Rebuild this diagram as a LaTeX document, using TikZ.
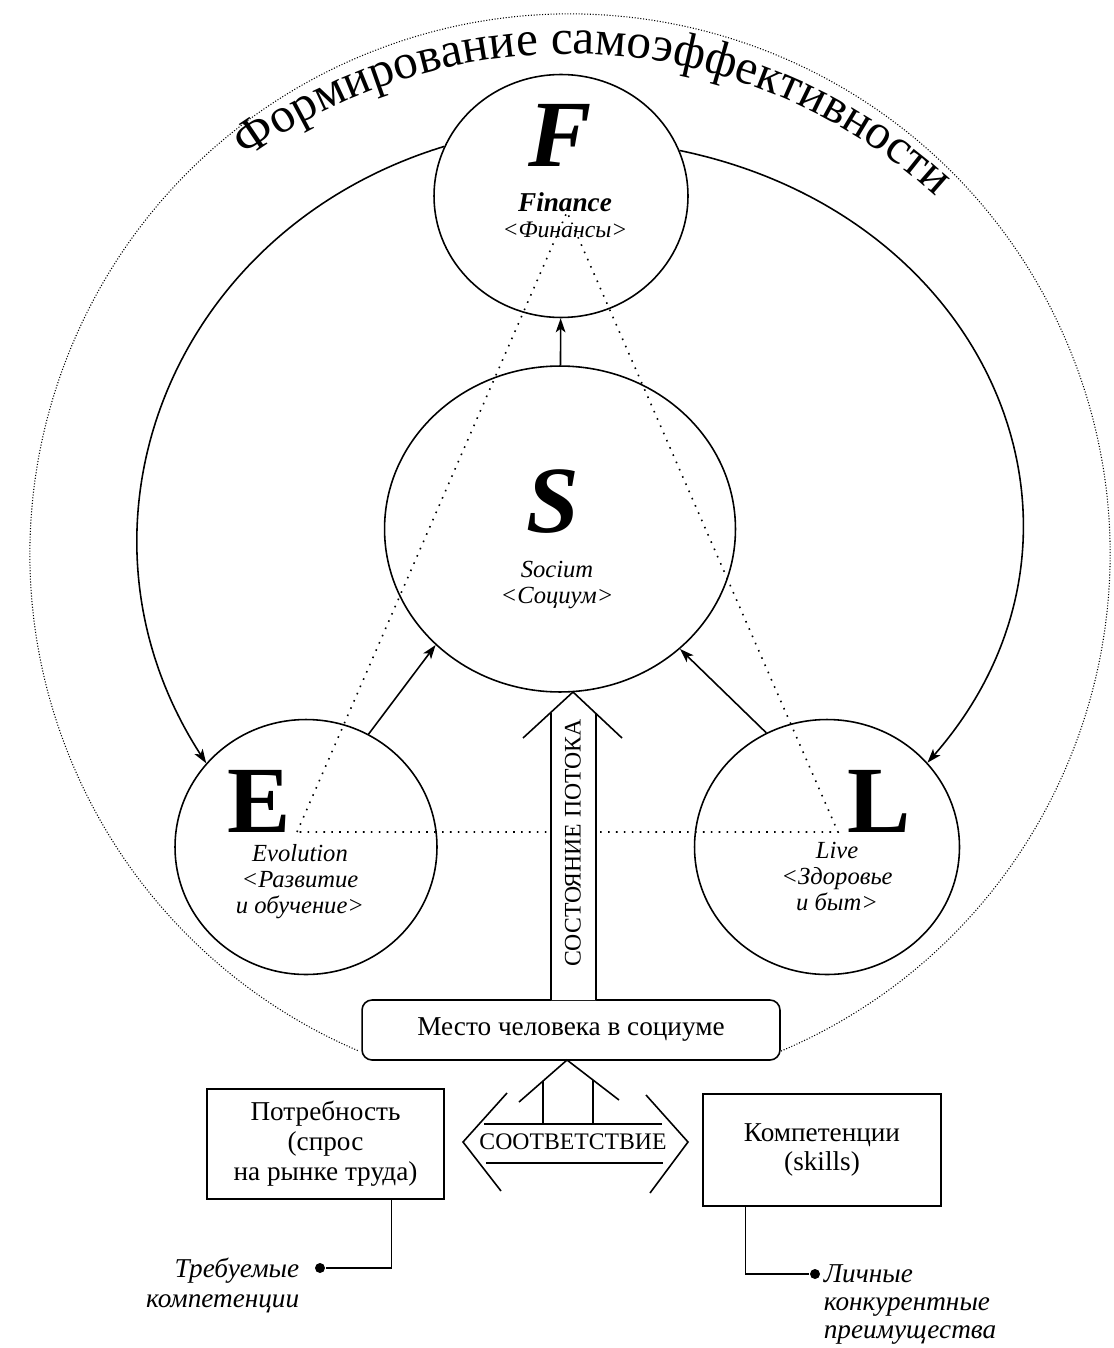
\documentclass[tikz,border=0pt]{standalone}
\usepackage{fontspec}
\setmainfont{Liberation Serif}
\usetikzlibrary{arrows.meta,shapes.geometric,decorations.text}

\newcommand{\titlefont}{\fontsize{28}{32}\selectfont}
\newcommand{\letterfont}{\fontsize{54}{54}\selectfont\bfseries}

\begin{document}
\begin{tikzpicture}[x=0.02cm,y=0.02cm,>={Stealth[length=8pt,width=5.5pt,inset=2pt]},line width=0.9pt,
    ring/.style={ellipse,draw,inner sep=0pt},
    bigletter/.style={inner sep=0pt,anchor=base,font=\letterfont},
    caption/.style={inner sep=0pt,anchor=base,align=center,font=\fontsize{14}{14.6}\selectfont\itshape},
    frame/.style={draw,inner sep=0pt,align=center,font=\fontsize{15.5}{17}\selectfont},
    dotline/.style={dash pattern=on 0.9pt off 3.6pt},
    knob/.style={circle,fill,inner sep=0pt,minimum size=0.2cm}]
\useasboundingbox (0,0) rectangle (1114,-1348);

% outer ring and title
\draw[line width=0.6pt,densely dotted] (570,-554) ++(-67:540) arc[start angle=-67,end angle=247,radius=540];
\path[decorate,decoration={text along path,text align=center,
    text={|\titlefont|Формирование самоэффективности}}]
    (568,-600) ++(149:546) arc[start angle=149,end angle=24.6,radius=546];

% circles
\node[ring,minimum width=5.08cm,minimum height=4.86cm] (F) at (561,-196) {};
\node[ring,minimum width=7.02cm,minimum height=6.52cm] (S) at (560,-529) {};
\node[ring,minimum width=5.24cm,minimum height=5.1cm] (E) at (306,-847) {};
\node[ring,minimum width=5.3cm,minimum height=5.1cm] (L) at (827,-847) {};

% dotted triangle
\coordinate (apex) at (567,-212);
\coordinate (eP) at (297,-832);
\coordinate (lP) at (838,-832);
\draw[dotline] (eP) -- (apex) -- (lP) -- cycle;

% labels
\node[bigletter,font=\letterfont\itshape] (Fl) at (560,-167) {F};
\node[caption,font=\fontsize{15.5}{15.5}\selectfont\bfseries\itshape] (Fen) at (565,-212) {Finance};
\node[caption,font=\fontsize{13.5}{14}\selectfont\itshape] (Fru) at (565,-237) {<Финансы>};
\node[bigletter,font=\letterfont\itshape] (Sl) at (553,-532) {S};
\node[caption] (Stx) at (557,-603) {Socium\\<Социум>};
\node[bigletter] (El) at (259,-832) {E};
\node[caption] (Etx) at (300,-913) {Evolution\\<Развитие\\и обучение>};
\node[bigletter] (Ll) at (879,-832) {L};
\node[caption] (Ltx) at (837,-910) {Live\\<Здоровье\\и быт>};

% arrows between circles
\draw[->] (S) -- (F);
\draw[->] (E.61) -- (S.223);
\draw[->] (L.118) -- (S.315);
\draw[->] (F.157) .. controls (170,-230) and (54,-528) .. (E.140);
\draw[->] (F.21) .. controls (996,-216) and (1125,-537) .. (L.40);

% place in society
\node[frame,rounded corners=0.2cm,fill=white,minimum width=8.36cm,minimum height=1.2cm] (place) at (571,-1030) {Место человека в социуме};

% flow arrow
\fill[white] (551,-1000) -- (551,-713) -- (573,-692) -- (596,-714) -- (596,-1000) -- cycle;
\draw (523,-738) -- (573,-692) -- (622,-738);
\draw (551,-713) -- (551,-1000);
\draw (596,-714) -- (596,-1000);
\node[rotate=90,font=\fontsize{13.5}{14}\selectfont] (flow) at (573,-843) {СОСТОЯНИЕ ПОТОКА};

% correspondence
\draw (507,-1093) -- (463,-1142) -- (501,-1191);
\draw (646,-1095) -- (688,-1142) -- (650,-1193);
\draw (484,-1124) -- (662,-1124);
\draw (486,-1163) -- (663,-1163);
\node[font=\fontsize{13.5}{14}\selectfont] (match) at (573,-1142) {СООТВЕТСТВИЕ};
\draw (519,-1102) -- (567,-1060) -- (619,-1100);
\draw (543,-1081) -- (543,-1124);
\draw (593,-1080) -- (593,-1124);

% boxes below
\node[frame,minimum width=4.74cm,minimum height=2.2cm] (need) at (325.5,-1144) {Потребность\\(спрос\\на рынке труда)};
\node[frame,minimum width=4.76cm,minimum height=2.24cm] (skill) at (822,-1150) {Компетенции\\(skills)};

% callouts
\node[knob] (dotA) at (320,-1268) {};
\draw[line width=0.6pt] (dotA) -| ([xshift=1.32cm]need.south);
\node[caption,anchor=base east,align=right,font=\fontsize{15.5}{17}\selectfont\itshape] (reqT) at (300,-1307) {Требуемые\\компетенции};
\node[knob] (dotB) at (815,-1274) {};
\draw[line width=0.6pt] (dotB) -| ([xshift=-1.54cm]skill.south);
\node[caption,anchor=base west,align=left,font=\fontsize{15.5}{15.9}\selectfont\itshape] (advT) at (823,-1338) {Личные\\конкурентные\\преимущества};
\end{tikzpicture}
\end{document}
